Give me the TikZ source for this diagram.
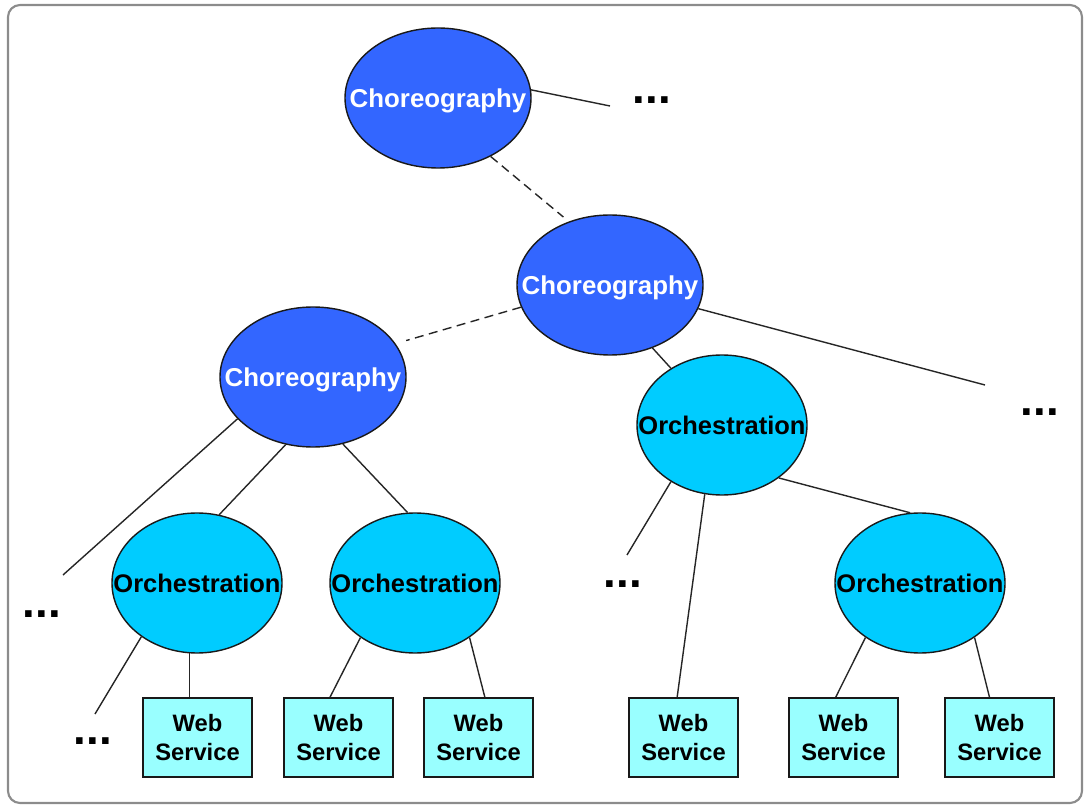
\documentclass[tikz,border=0pt]{standalone}
\usepackage{fontspec}
\setmainfont{Liberation Sans}
\usepackage{tikz}
\usetikzlibrary{shapes.geometric}
\definecolor{chorblue}{RGB}{51,102,255}
\definecolor{orchcyan}{RGB}{0,204,255}
\definecolor{wscyan}{RGB}{153,255,255}
\newcommand{\ctext}[1]{\makebox[0pt]{#1}}

\begin{document}
\begin{tikzpicture}[x=0.2mm, y=-0.2mm, line width=0.8pt,
  chor/.style={ellipse, draw=black!90, fill=chorblue, minimum width=37.2mm, minimum height=28mm,
    inner sep=0pt, text depth=0pt, text=white, font=\fontsize{14.7}{18}\selectfont\bfseries},
  orch/.style={ellipse, draw=black!90, fill=orchcyan, minimum width=34mm, minimum height=28mm,
    inner sep=0pt, text depth=0pt, font=\fontsize{14.5}{17}\selectfont\bfseries},
  ws/.style={rectangle, draw=black!90, fill=wscyan, minimum width=21.8mm, minimum height=15.8mm,
    inner sep=0pt, align=center, font=\fontsize{13.5}{16.5}\selectfont\bfseries},
  more/.style={anchor=base, inner sep=0pt, font=\fontsize{26}{26}\selectfont\bfseries},
  link/.style={draw=black!85},
  loose/.style={link, dash pattern=on 1.8mm off 1.1mm}]
\useasboundingbox (0,0) rectangle (1084,807);
\draw[black!45, line width=1.2pt, rounded corners=2.4mm] (8,5) rectangle (1082,803);
% the choreographies
\node[chor] (chor1) at (438,98)  {\ctext{Choreography}};
\node[chor] (chor2) at (610,285) {\ctext{Choreography}};
\node[chor] (chor3) at (313,377) {\ctext{Choreography}};
% the orchestrations
\node[orch] (orch1) at (722,425) {\ctext{Orchestration}};
\node[orch] (orch2) at (197,583) {\ctext{Orchestration}};
\node[orch] (orch3) at (415,583) {\ctext{Orchestration}};
\node[orch] (orch4) at (920,583) {\ctext{Orchestration}};
% the services
\foreach \n/\x in {1/197.5, 2/338.5, 3/478.5, 4/683.5, 5/843.5, 6/999.5}
  \node[ws] (ws\n) at (\x,737.5) {Web\\Service};
\foreach \n/\x/\y in {A/652/104, B/1040/416, C/42/617, D/93/744, E/623/587}
  \node[more] (more\n) at (\x,\y) {...};
\coordinate (endA) at (610,106);
\coordinate (endB) at (985,385);
\coordinate (endC) at (63,575);
\coordinate (endD) at (95,714);
\coordinate (endE) at (627,555);
\draw[link] (chor1.5) -- (endA);
\draw[loose, shorten >=1.4mm] (chor1.-48) -- (chor2.123);
\draw[loose, shorten >=2.2mm] (chor2.-166) -- (chor3.22);
\draw[link] (chor2.-56) -- (orch1.132);
\draw[link] (chor2.-15) -- (endB);
\draw[link] (chor3.-151) -- (endC);
\draw[link] (chor3.-112) -- (orch2.72);
\draw[link] (chor3.-66) -- (orch3.96);
\draw[link] (orch2.-136) -- (endD);
\draw[link] (orch2.-96) -- (orch2.-96 |- ws1.north);
\draw[link] (orch3.-135) -- (ws2.102);
\draw[link] (orch3.-45) -- (ws3.81);
\draw[link] (orch1.-132) -- (endE);
\draw[link] (orch1.-104) -- (ws4.99);
\draw[link] (orch1.-43) -- (orch4.98);
\draw[link] (orch4.-135) -- (ws5.101);
\draw[link] (orch4.-45) -- (ws6.104);
\end{tikzpicture}
\end{document}
